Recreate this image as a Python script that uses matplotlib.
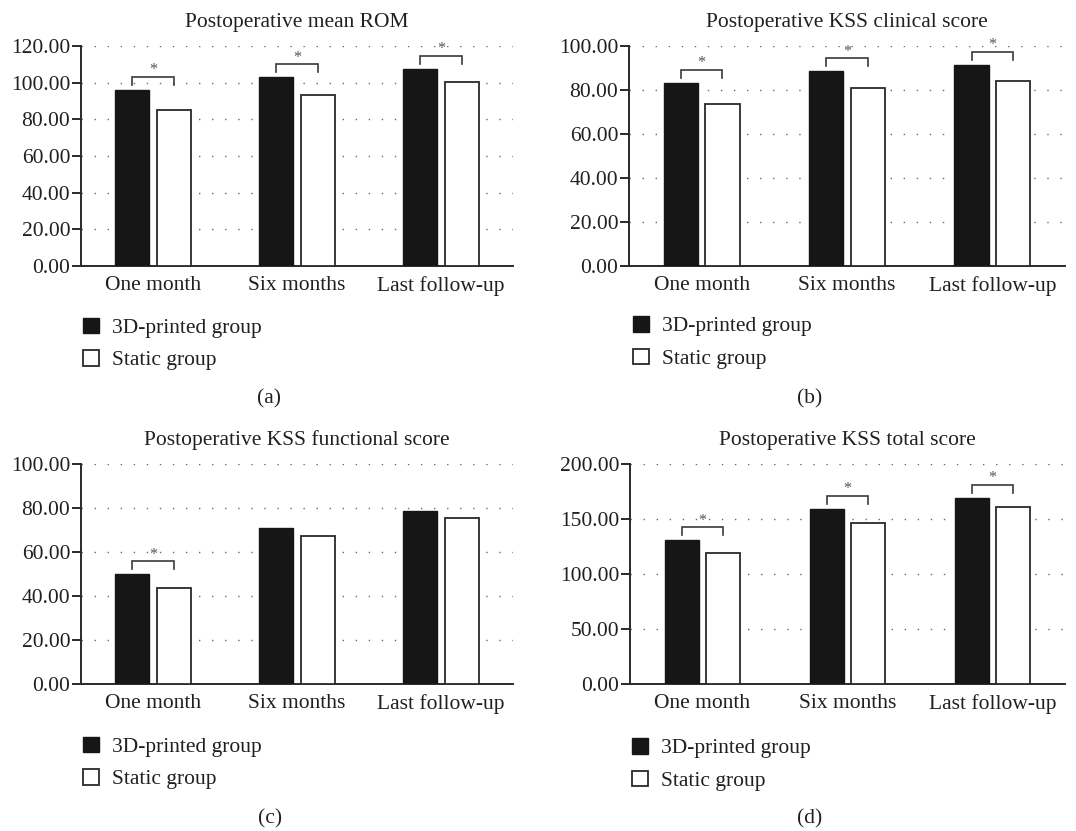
import matplotlib
matplotlib.use("Agg")
import matplotlib.pyplot as plt
from matplotlib.patches import Patch
import numpy as np

# ---------------- data ----------------
categories = ["One month", "Six months", "Last follow-up"]
groups = ["3D-printed group", "Static group"]

rom_3d = [96.2, 102.9, 107.5]
rom_static = [85.3, 93.3, 100.6]
rom_sig = [True, True, True]

clin_3d = [83.2, 88.5, 91.4]
clin_static = [73.8, 80.9, 83.9]
clin_sig = [True, True, True]

func_3d = [49.8, 70.9, 78.8]
func_static = [43.5, 67.1, 75.3]
func_sig = [True, False, False]

total_3d = [130.9, 159.1, 169.4]
total_static = [118.8, 146.7, 160.6]
total_sig = [True, True, True]

titles = ["Postoperative mean ROM", "Postoperative KSS clinical score",
          "Postoperative KSS functional score", "Postoperative KSS total score"]
yticks_list = [[0, 20, 40, 60, 80, 100, 120],
               [0, 20, 40, 60, 80, 100],
               [0, 20, 40, 60, 80, 100],
               [0, 50, 100, 150, 200]]
captions = ["(a)", "(b)", "(c)", "(d)"]

# ---------------- style ----------------
plt.rcParams["font.family"] = ["Liberation Serif", "DejaVu Serif"]
TXT = "#231f20"
EDGE = "#2a2a2a"
BLACK = "#161616"
FS = 15.5

W, H = 1076, 831
fig = plt.figure(figsize=(W / 100, H / 100), dpi=100)

def fx(px):
    return px / W

def fy(py):
    return 1 - py / H

# axes rectangles in pixels: left, top, right, bottom
rects = [(81, 46, 513, 266), (629, 46, 1065, 266),
         (81, 464, 513, 684), (630, 464, 1065, 684)]
legend_pos = [(83, 344), (633, 342.5), (83, 763), (632, 764.5)]
caption_pos = [(269, 399), (810, 399), (270, 819), (810, 819)]

series = [(rom_3d, rom_static, rom_sig), (clin_3d, clin_static, clin_sig),
          (func_3d, func_static, func_sig), (total_3d, total_static, total_sig)]

bw = 0.235
off = 0.143
x = np.arange(len(categories))

for i, (l, t, r, b) in enumerate(rects):
    ax = fig.add_axes([fx(l), fy(b), fx(r - l), (b - t) / H])
    v3d, vst, sig = series[i]
    yt = yticks_list[i]
    ymax = yt[-1]
    ax.set_ylim(0, ymax)
    ax.set_xlim(-0.5, len(categories) - 0.5)

    ax.bar(x - off, v3d, bw, color=BLACK, edgecolor=BLACK, linewidth=1.0, zorder=3)
    ax.bar(x + off, vst, bw, color="white", edgecolor=EDGE, linewidth=1.3, zorder=3)

    # grid
    for v in yt[1:]:
        ax.axhline(v, color="#6a6a6a", linewidth=1.0, linestyle=(0, (1, 8.4)), zorder=1)

    # spines
    for s in ["top", "right"]:
        ax.spines[s].set_visible(False)
    for s in ["left", "bottom"]:
        ax.spines[s].set_color(EDGE)
        ax.spines[s].set_linewidth(1.4)

    ax.set_yticks(yt)
    ax.set_yticklabels([f"{v:.2f}" for v in yt])
    ax.set_xticks(x)
    ax.set_xticklabels(categories)
    ax.tick_params(axis="y", length=6.7, width=1.4, color=EDGE, pad=1,
                   labelsize=FS, labelcolor=TXT, direction="out")
    ax.tick_params(axis="x", length=0, pad=7, labelsize=FS, labelcolor=TXT)

    ax.set_title(titles[i], fontsize=FS, color=TXT, pad=13.5)

    # significance brackets
    px2d = ymax / (b - t)
    for j in range(len(categories)):
        if not sig[j]:
            continue
        base = max(v3d[j], vst[j]) + 5 * px2d
        top = base + 8 * px2d
        x0, x1 = x[j] - off, x[j] + off
        ax.plot([x0, x0, x1, x1], [base, top, top, base], color="#3a3a3a",
                linewidth=1.2, zorder=4, clip_on=False, solid_joinstyle="miter")
        ax.text(x[j], top + 2.5 * px2d, "*", ha="center", va="baseline",
                fontsize=11.5, color="#555555", zorder=5)

    # legend
    handles = [Patch(facecolor=BLACK, edgecolor=BLACK, linewidth=1.0),
               Patch(facecolor="white", edgecolor=EDGE, linewidth=1.3)]
    lx, ly = legend_pos[i]
    ax.legend(handles, groups, loc="center left",
              bbox_to_anchor=(fx(lx), fy(ly)), bbox_transform=fig.transFigure,
              frameon=False, fontsize=FS, handlelength=0.75, handleheight=0.75,
              handletextpad=0.62, labelspacing=0.56, borderpad=0, borderaxespad=0,
              labelcolor=TXT)

    cx, cy = caption_pos[i]
    fig.text(fx(cx), fy(cy), captions[i], ha="center", va="center",
             fontsize=FS, color=TXT)

fig.savefig("out.png", dpi=100)
